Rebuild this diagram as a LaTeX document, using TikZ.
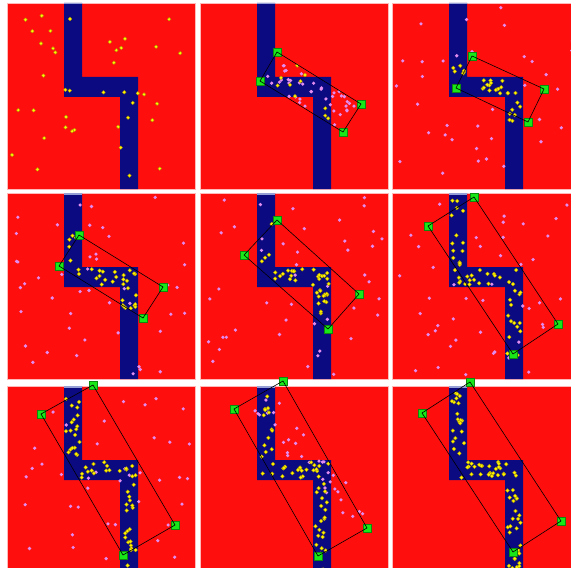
\documentclass[tikz,border=0pt]{standalone}
\definecolor{bgred}{RGB}{255,14,14}
\definecolor{navy}{RGB}{12,10,128}
\definecolor{navytop}{RGB}{150,160,215}
\definecolor{gsq}{RGB}{24,232,24}
\definecolor{ydot}{RGB}{255,245,0}
\definecolor{yedge}{RGB}{170,150,0}
\definecolor{pdot}{RGB}{225,140,240}
\definecolor{pframe}{RGB}{255,185,185}
\tikzset{
 panelbox/.style={fill=bgred, draw=pframe, line width=0.8bp},
 corridor/.style={fill=navy},
 yel/.style={fill=ydot, draw=yedge, line width=0.3bp},
 pnk/.style={fill=pdot},
 greensq/.style={rectangle, fill=gsq, minimum size=8bp, inner sep=0pt, draw=gsq!60!black, line width=0.3bp},
 qline/.style={draw=black, line width=0.6bp},
}
\newcommand{\drawpanel}[2]{%
 \begin{scope}[shift={(#1,#2)}]
  \path[panelbox] (0,0) rectangle (188,186);
  \fill[corridor] (57,0) -- (75,0) -- (75,74) -- (131,74) -- (131,186) -- (113,186) -- (113,94) -- (57,94) -- cycle;
  \fill[navytop] (57,0) rectangle (75,1.5);
 \end{scope}}
% uniform dots: ox, oy, n, style, seed
\newcommand{\unidots}[5]{%
 \pgfmathsetseed{#5}%
 \foreach \k in {1,...,#3}{%
  \pgfmathsetmacro\px{#1+4+180*rnd}%
  \pgfmathsetmacro\py{#2+4+178*rnd}%
  \path[#4] (\px,\py) circle[radius=1.8bp];}}
% corridor dots: ox, oy, n, seed, wa, wb, xa, ya, yb
\newcommand{\cordots}[9]{%
 \pgfmathsetseed{#4}%
 \foreach \k in {1,...,#3}{%
  \pgfmathsetmacro\rr{rnd}%
  \pgfmathsetmacro\px{#1+ifthenelse(\rr<#5,#7+(129-#7)*rnd,ifthenelse(\rr<#6,59+14*rnd,115+14*rnd))}%
  \pgfmathsetmacro\py{#2+ifthenelse(\rr<#5,76+16*rnd,ifthenelse(\rr<#6,#8+(72-#8)*rnd,94+#9*rnd))}%
  \path[yel] (\px,\py) circle[radius=1.9bp];}}
% parallelogram dots: n, style, seed, Lx, Ly, ux, uy, vx, vy
\newcommand{\quaddots}[9]{%
 \pgfmathsetseed{#3}%
 \foreach \k in {1,...,#1}{%
  \pgfmathsetmacro\qs{rnd}\pgfmathsetmacro\qt{rnd}%
  \pgfmathsetmacro\px{#4+\qs*(#6)+\qt*(#8)}%
  \pgfmathsetmacro\py{#5+\qs*(#7)+\qt*(#9)}%
  \path[#2] (\px,\py) circle[radius=1.8bp];}}
\newcommand{\makequad}[9]{%
 \node[greensq] (#1t) at (#2,#3) {};
 \node[greensq] (#1r) at (#4,#5) {};
 \node[greensq] (#1b) at (#6,#7) {};
 \node[greensq] (#1l) at (#8,#9) {};
 \draw[qline] (#1t.center) -- (#1r.center) -- (#1b.center) -- (#1l.center) -- cycle;}
\begin{document}
\begin{tikzpicture}[x=1bp,y=-1bp]
\useasboundingbox (0,0) rectangle (571,568);
\fill[white] (0,0) rectangle (571,568);
\clip (0,0) rectangle (571,568);
\drawpanel{7}{3}\drawpanel{200}{3}\drawpanel{392}{3}
\drawpanel{7}{193}\drawpanel{200}{193}\drawpanel{392}{193}
\drawpanel{7}{386}\drawpanel{200}{386}\drawpanel{392}{386}
% panel 1
\unidots{7}{3}{40}{yel}{11}
% panel 2
\quaddots{40}{pnk}{21}{262}{80}{17}{-29}{82}{51}
\quaddots{10}{yel}{22}{264}{80}{15}{-26}{78}{48}
% panel 3
\unidots{392}{3}{35}{pnk}{31}
\cordots{392}{3}{30}{32}{0.6}{0.75}{90}{62}{25}
% panel 4
\unidots{7}{193}{45}{pnk}{41}
\cordots{7}{193}{35}{42}{0.5}{0.72}{70}{40}{22}
% panel 5
\unidots{200}{193}{45}{pnk}{51}
\cordots{200}{193}{40}{52}{0.45}{0.72}{70}{15}{28}
% panel 6
\unidots{392}{193}{45}{pnk}{61}
\cordots{392}{193}{48}{62}{0.4}{0.68}{62}{5}{70}
% panel 7
\unidots{7}{386}{40}{pnk}{71}
\cordots{7}{386}{55}{72}{0.35}{0.65}{62}{5}{86}
% panel 8
\quaddots{35}{pnk}{81}{245}{405}{30}{-12}{95}{118}
\cordots{200}{386}{60}{82}{0.35}{0.65}{62}{5}{90}
% panel 9
\cordots{392}{386}{75}{92}{0.35}{0.65}{62}{5}{90}
% quads
\makequad{pb}{277}{52}{361}{104}{343}{132}{260}{81}
\makequad{pc}{472}{56}{544}{89}{528}{122}{456}{88}
\makequad{pd}{79}{235}{163}{287}{143}{318}{59}{266}
\makequad{pe}{277}{220}{359}{294}{328}{329}{244}{255}
\makequad{pf}{474}{197}{558}{324}{513}{354}{428}{226}
\makequad{pg}{93}{385}{175}{525}{123}{555}{41}{414}
\makequad{ph}{283}{381}{367}{528}{318}{556}{234}{409}
\makequad{pi}{470}{382}{561}{521}{513}{552}{422}{413}
\end{tikzpicture}
\end{document}
